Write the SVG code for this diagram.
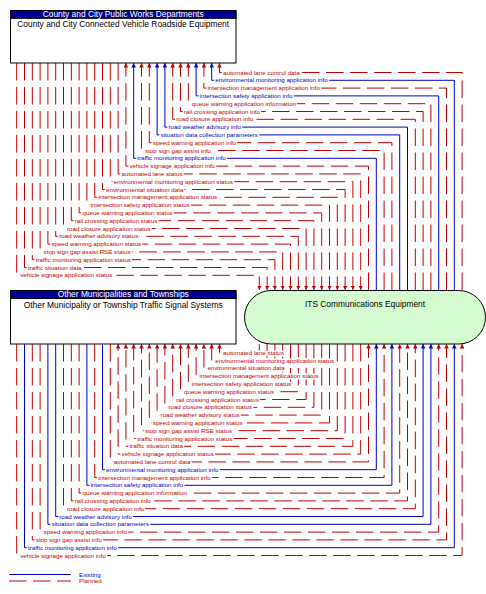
<svg xmlns="http://www.w3.org/2000/svg" width="486" height="594" viewBox="0 0 486 594">
<style>
.p{fill:none;stroke:#c00000;stroke-width:1;stroke-dasharray:17.5 6.5;marker-end:url(#ar)}
.e{fill:none;stroke:#0000c8;stroke-width:1;marker-end:url(#ab)}
.l{font-family:"Liberation Sans",Arial,sans-serif;font-size:6.2px;paint-order:stroke;stroke:#fff;stroke-width:3px;stroke-linejoin:round}
.lr{fill:#c00000}
.lb{fill:#0000c8}
.hd{fill:#000096;stroke:#000;stroke-width:1}
.bx{fill:#fff;stroke:#000;stroke-width:1}
.ht{font-family:"Liberation Sans",Arial,sans-serif;font-size:8.4px;fill:#fff;text-anchor:middle}
.bt{font-family:"Liberation Sans",Arial,sans-serif;font-size:8.4px;fill:#000;text-anchor:middle}
</style>
<defs>
<marker id="ar" viewBox="0 0 8 8" refX="8" refY="4" markerWidth="4.5" markerHeight="4.5" markerUnits="userSpaceOnUse" orient="auto"><path d="M0,0L8,4L0,8z" fill="#c00000"/></marker>
<marker id="ab" viewBox="0 0 8 8" refX="8" refY="4" markerWidth="4.5" markerHeight="4.5" markerUnits="userSpaceOnUse" orient="auto"><path d="M0,0L8,4L0,8z" fill="#0000c8"/></marker>
</defs>
<rect width="486" height="594" fill="#fff"/>
<g id="connectors">
<!-- top section: status flows, RSE -> ITS Comm -->
<path class="p" d="M16.7,63V275.3H259.3V290"/>
<path class="p" d="M24.5,63V267.5H267.1V290"/>
<path class="p" d="M32.3,63V259.7H274.9V290"/>
<path class="p" d="M40.1,63V251.9H282.7V290"/>
<path class="p" d="M47.9,63V244.1H290.5V290"/>
<path class="p" d="M55.7,63V236.3H298.3V290"/>
<path class="p" d="M63.5,63V228.5H306.1V290"/>
<path class="p" d="M71.3,63V220.7H313.9V290"/>
<path class="p" d="M79.1,63V212.9H321.7V290"/>
<path class="p" d="M86.9,63V205.1H329.5V290"/>
<path class="p" d="M94.7,63V197.3H337.3V290"/>
<path class="p" d="M102.5,63V189.5H345.1V290"/>
<path class="p" d="M110.3,63V181.7H352.9V290"/>
<path class="p" d="M118.1,63V173.9H360.7V290"/>
<!-- top section: info flows, ITS Comm -> RSE -->
<path class="p" d="M368.5,290V166.1H125.9V63"/>
<path class="e" d="M376.3,290V158.3H133.7V63"/>
<path class="p" d="M384.1,290V150.5H141.5V63"/>
<path class="p" d="M391.9,290V142.7H149.3V63"/>
<path class="e" d="M399.7,290V134.9H157.1V63"/>
<path class="e" d="M407.5,290V127.1H164.9V63"/>
<path class="p" d="M415.3,290V119.3H172.7V63"/>
<path class="p" d="M423.1,290V111.5H180.5V63"/>
<path class="p" d="M430.9,290V103.7H188.3V63"/>
<path class="e" d="M438.7,290V95.9H196.1V63"/>
<path class="p" d="M446.5,290V88.1H203.9V63"/>
<path class="e" d="M454.3,290V80.3H211.7V63"/>
<path class="p" d="M462.1,290V72.5H219.5V63"/>
<!-- bottom section: info flows, TSS -> ITS Comm -->
<path class="p" d="M16.7,344V555.5H462.1V344"/>
<path class="e" d="M24.5,344V547.7H454.3V344"/>
<path class="p" d="M32.3,344V539.9H446.5V344"/>
<path class="p" d="M40.1,344V532.1H438.7V344"/>
<path class="e" d="M47.9,344V524.3H430.9V344"/>
<path class="e" d="M55.7,344V516.5H423.1V344"/>
<path class="p" d="M63.5,344V508.7H415.3V344"/>
<path class="p" d="M71.3,344V500.9H407.5V344"/>
<path class="p" d="M79.1,344V493.1H399.7V344"/>
<path class="e" d="M86.9,344V485.3H391.9V344"/>
<path class="p" d="M94.7,344V477.5H384.1V344"/>
<path class="e" d="M102.5,344V469.7H376.3V344"/>
<path class="p" d="M110.3,344V461.9H368.5V344"/>
<!-- bottom section: status flows, ITS Comm -> TSS -->
<path class="p" d="M360.7,344V454.1H118.1V344"/>
<path class="p" d="M352.9,344V446.3H125.9V344"/>
<path class="p" d="M345.1,344V438.5H133.7V344"/>
<path class="p" d="M337.3,344V430.7H141.5V344"/>
<path class="p" d="M329.5,344V422.9H149.3V344"/>
<path class="p" d="M321.7,344V415.1H157.1V344"/>
<path class="p" d="M313.9,344V407.3H164.9V344"/>
<path class="p" d="M306.1,344V399.5H172.7V344"/>
<path class="p" d="M298.3,344V391.7H180.5V344"/>
<path class="p" d="M290.5,344V383.9H188.3V344"/>
<path class="p" d="M282.7,344V376.1H196.1V344"/>
<path class="p" d="M274.9,344V368.3H203.9V344"/>
<path class="p" d="M267.1,344V360.5H211.7V344"/>
<path class="p" d="M259.3,344V352.7H219.5V344"/>
<!-- labels top -->
<g class="l">
<text class="lr" x="20.2" y="277.4">vehicle signage application status</text>
<text class="lr" x="28" y="269.6">traffic situation data</text>
<text class="lr" x="35.8" y="261.8">traffic monitoring application status</text>
<text class="lr" x="43.6" y="254">stop sign gap assist RSE status</text>
<text class="lr" x="51.4" y="246.2">speed warning application status</text>
<text class="lr" x="59.2" y="238.4">road weather advisory status</text>
<text class="lr" x="67" y="230.6">road closure application status</text>
<text class="lr" x="74.8" y="222.8">rail crossing application status</text>
<text class="lr" x="82.6" y="215">queue warning application status</text>
<text class="lr" x="90.4" y="207.2">intersection safety application status</text>
<text class="lr" x="98.2" y="199.4">intersection management application status</text>
<text class="lr" x="106" y="191.6">environmental situation data</text>
<text class="lr" x="113.8" y="183.8">environmental monitoring application status</text>
<text class="lr" x="121.6" y="176">automated lane status</text>
<text class="lr" x="129.4" y="168.2">vehicle signage application info</text>
<text class="lb" x="137.2" y="160.4">traffic monitoring application info</text>
<text class="lr" x="145" y="152.6">stop sign gap assist info</text>
<text class="lr" x="152.8" y="144.8">speed warning application info</text>
<text class="lb" x="160.6" y="137">situation data collection parameters</text>
<text class="lb" x="168.4" y="129.2">road weather advisory info</text>
<text class="lr" x="176.2" y="121.4">road closure application info</text>
<text class="lr" x="184" y="113.6">rail crossing application info</text>
<text class="lr" x="191.8" y="105.8">queue warning application information</text>
<text class="lb" x="199.6" y="98">intersection safety application info</text>
<text class="lr" x="207.4" y="90.2">intersection management application info</text>
<text class="lb" x="215.2" y="82.4">environmental monitoring application info</text>
<text class="lr" x="223" y="74.6">automated lane control data</text>
</g>
<!-- labels bottom -->
<g class="l">
<text class="lr" x="20.2" y="557.6">vehicle signage application info</text>
<text class="lb" x="28" y="549.8">traffic monitoring application info</text>
<text class="lr" x="35.8" y="542">stop sign gap assist info</text>
<text class="lr" x="43.6" y="534.2">speed warning application info</text>
<text class="lb" x="51.4" y="526.4">situation data collection parameters</text>
<text class="lb" x="59.2" y="518.6">road weather advisory info</text>
<text class="lr" x="67" y="510.8">road closure application info</text>
<text class="lr" x="74.8" y="503">rail crossing application info</text>
<text class="lr" x="82.6" y="495.2">queue warning application information</text>
<text class="lb" x="90.4" y="487.4">intersection safety application info</text>
<text class="lr" x="98.2" y="479.6">intersection management application info</text>
<text class="lb" x="106" y="471.8">environmental monitoring application info</text>
<text class="lr" x="113.8" y="464">automated lane control data</text>
<text class="lr" x="121.6" y="456.2">vehicle signage application status</text>
<text class="lr" x="129.4" y="448.4">traffic situation data</text>
<text class="lr" x="137.2" y="440.6">traffic monitoring application status</text>
<text class="lr" x="145" y="432.8">stop sign gap assist RSE status</text>
<text class="lr" x="152.8" y="425">speed warning application status</text>
<text class="lr" x="160.6" y="417.2">road weather advisory status</text>
<text class="lr" x="168.4" y="409.4">road closure application status</text>
<text class="lr" x="176.2" y="401.6">rail crossing application status</text>
<text class="lr" x="184" y="393.8">queue warning application status</text>
<text class="lr" x="191.8" y="386">intersection safety application status</text>
<text class="lr" x="199.6" y="378.2">intersection management application status</text>
<text class="lr" x="207.4" y="370.4">environmental situation data</text>
<text class="lr" x="215.2" y="362.6">environmental monitoring application status</text>
<text class="lr" x="223" y="354.8">automated lane status</text>
</g>
</g>
<g id="node-rse">
<rect class="bx" x="10.5" y="10.5" width="225.5" height="52.5"/>
<rect class="hd" x="10.5" y="10.5" width="225.5" height="7.8"/>
<text class="ht" x="123.2" y="17.1">County and City Public Works Departments</text>
<text class="bt" x="123.2" y="27">County and City Connected Vehicle Roadside Equipment</text>
</g>
<g id="node-tss">
<rect class="bx" x="10.5" y="290.5" width="225.5" height="53.5"/>
<rect class="hd" x="10.5" y="290.5" width="225.5" height="8"/>
<text class="ht" x="123.2" y="297.4">Other Municipalities and Townships</text>
<text class="bt" x="123.2" y="307.5">Other Municipality or Township Traffic Signal Systems</text>
</g>
<g id="node-its">
<rect x="244.5" y="290.5" width="241" height="53.5" rx="26.75" ry="26.75" fill="#d4fcd0" stroke="#000" stroke-width="1"/>
<text class="bt" x="365" y="307">ITS Communications Equipment</text>
</g>
<g id="legend">
<line x1="9" y1="574.5" x2="71" y2="574.5" stroke="#0000c8" stroke-width="1"/>
<line x1="9" y1="581" x2="71" y2="581" stroke="#c00000" stroke-width="1" stroke-dasharray="17.5 6.5"/>
<text class="l lb" x="79" y="576.6" style="stroke:none">Existing</text>
<text class="l lr" x="79" y="583.1" style="stroke:none">Planned</text>
</g>
</svg>
